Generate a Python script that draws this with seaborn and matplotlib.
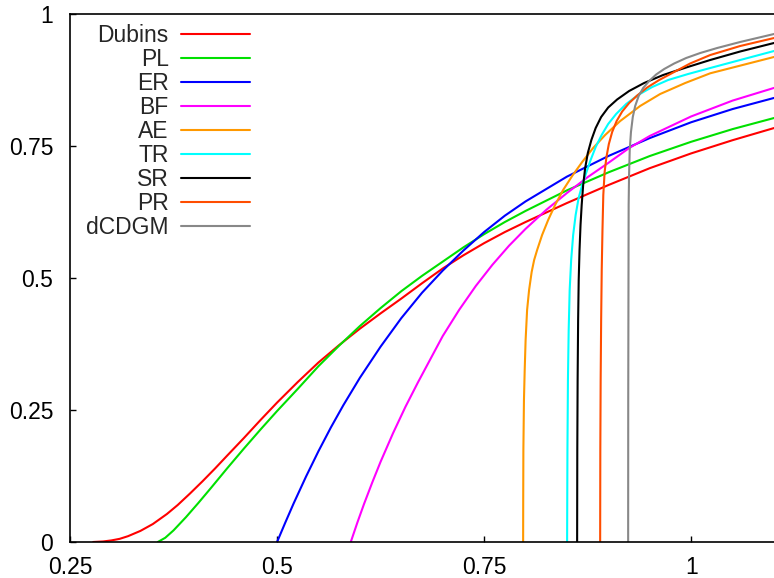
import numpy as np
import pandas as pd
import matplotlib
matplotlib.use("Agg")
import matplotlib.pyplot as plt
import seaborn as sns

methods = ["Dubins", "PL", "ER", "BF", "AE", "TR", "SR", "PR", "dCDGM"]
colors = ["#ff0000", "#00e000", "#0000ff", "#ff00ff", "#ff9900",
          "#00ffff", "#000000", "#ff4d00", "#888888"]

dubins_x = [0.278, 0.29, 0.30, 0.31, 0.32, 0.335, 0.35, 0.367, 0.38, 0.395, 0.41, 0.425, 0.44, 0.46, 0.48, 0.50,
            0.525, 0.55, 0.575, 0.60, 0.625, 0.65, 0.675, 0.70, 0.725, 0.75, 0.775, 0.80, 0.85, 0.90, 0.95, 1.00, 1.05, 1.10]
dubins_y = [0.0, 0.001, 0.003, 0.006, 0.011, 0.021, 0.034, 0.053, 0.070, 0.092, 0.115, 0.139, 0.164, 0.197, 0.231, 0.264,
            0.303, 0.340, 0.373, 0.404, 0.433, 0.461, 0.490, 0.518, 0.543, 0.566, 0.587, 0.606, 0.642, 0.676, 0.708, 0.736, 0.761, 0.784]

pl_x = [0.356, 0.365, 0.375, 0.39, 0.405, 0.42, 0.44, 0.46, 0.48, 0.50, 0.525, 0.55, 0.575, 0.60, 0.625, 0.65,
        0.675, 0.70, 0.725, 0.75, 0.775, 0.80, 0.85, 0.90, 0.95, 1.00, 1.05, 1.10]
pl_y = [0.0, 0.008, 0.022, 0.047, 0.074, 0.102, 0.140, 0.177, 0.213, 0.248, 0.290, 0.333, 0.372, 0.409, 0.443, 0.475,
        0.504, 0.531, 0.558, 0.583, 0.606, 0.627, 0.666, 0.700, 0.731, 0.758, 0.782, 0.803]

er_x = [0.500, 0.51, 0.52, 0.535, 0.55, 0.565, 0.58, 0.60, 0.625, 0.65, 0.675, 0.70, 0.725, 0.75, 0.775, 0.80,
        0.85, 0.90, 0.95, 1.00, 1.05, 1.10]
er_y = [0.0, 0.037, 0.073, 0.124, 0.172, 0.217, 0.259, 0.311, 0.370, 0.424, 0.472, 0.514, 0.552, 0.587, 0.618, 0.645,
        0.692, 0.731, 0.765, 0.795, 0.820, 0.841]

bf_x = [0.589, 0.597, 0.605, 0.615, 0.625, 0.64, 0.655, 0.67, 0.685, 0.70, 0.72, 0.74, 0.76, 0.78, 0.80, 0.825,
        0.85, 0.875, 0.90, 0.925, 0.95, 1.00, 1.05, 1.10]
bf_y = [0.0, 0.037, 0.072, 0.113, 0.152, 0.206, 0.256, 0.302, 0.346, 0.390, 0.440, 0.485, 0.525, 0.561, 0.593, 0.629,
        0.661, 0.691, 0.718, 0.746, 0.769, 0.806, 0.836, 0.860]

ae_x = [0.7971, 0.7972, 0.7974, 0.7981, 0.7990, 0.8001, 0.8019, 0.8043, 0.8074, 0.8104, 0.8140, 0.8200, 0.8273,
        0.8357, 0.8454, 0.8563, 0.8684, 0.8816, 0.8961, 0.9143, 0.9384, 0.9626, 0.9928, 1.0230, 1.10]
ae_y = [0.0, 0.0795, 0.1742, 0.2689, 0.3258, 0.3826, 0.4394, 0.4773, 0.5114, 0.5341, 0.5530, 0.5814, 0.6098,
        0.6383, 0.6667, 0.6932, 0.7197, 0.7462, 0.7708, 0.7973, 0.8258, 0.8485, 0.8693, 0.8877, 0.9186]

tr_x = [0.8502, 0.8506, 0.8512, 0.8521, 0.8533, 0.8551, 0.8575, 0.8605, 0.8641, 0.8684, 0.8732, 0.8786, 0.8847,
        0.8919, 0.8998, 0.9094, 0.9215, 0.9360, 0.9529, 0.9722, 0.9964, 1.0230, 1.0592, 1.10]
tr_y = [0.0, 0.1742, 0.3068, 0.4015, 0.4773, 0.5341, 0.5814, 0.6193, 0.6515, 0.6761, 0.6989, 0.7235, 0.7481,
        0.7708, 0.7917, 0.8106, 0.8295, 0.8466, 0.8617, 0.8750, 0.8864, 0.8977, 0.9129, 0.9299]

sr_x = [0.8623, 0.8625, 0.8629, 0.8635, 0.8642, 0.8652, 0.8664, 0.8678, 0.8696, 0.8720, 0.8752, 0.8795, 0.8847,
        0.8913, 0.8998, 0.9106, 0.9251, 0.9432, 0.9662, 0.9940, 1.0230, 1.0592, 1.10]
sr_y = [0.0, 0.1742, 0.3068, 0.4205, 0.4962, 0.5530, 0.6004, 0.6383, 0.6761, 0.7083, 0.7367, 0.7614, 0.7841,
        0.8049, 0.8229, 0.8381, 0.8542, 0.8693, 0.8845, 0.8987, 0.9129, 0.9290, 0.9451]

pr_x = [0.8901, 0.8903, 0.8907, 0.8913, 0.8920, 0.8929, 0.8939, 0.8955, 0.8977, 0.9006, 0.9046, 0.9100, 0.9167,
        0.9251, 0.9348, 0.9469, 0.9614, 0.9783, 0.9988, 1.0230, 1.0592, 1.10]
pr_y = [0.0, 0.1742, 0.3068, 0.4205, 0.5152, 0.5909, 0.6572, 0.7008, 0.7292, 0.7538, 0.7765, 0.7973, 0.8153,
        0.8314, 0.8456, 0.8608, 0.8750, 0.8892, 0.9063, 0.9223, 0.9394, 0.9545]

dcdgm_x = [0.9239, 0.9240, 0.9243, 0.9245, 0.9250, 0.9258, 0.9273, 0.9295, 0.9324, 0.9366, 0.9420, 0.9493, 0.9577,
           0.9674, 0.9795, 0.9940, 1.0109, 1.0314, 1.0592, 1.10]
dcdgm_y = [0.0, 0.2689, 0.4962, 0.6383, 0.6951, 0.7424, 0.7765, 0.8049, 0.8258, 0.8447, 0.8598, 0.8731, 0.8854,
           0.8958, 0.9063, 0.9167, 0.9261, 0.9356, 0.9470, 0.9621]

x_ticks = [0.25, 0.5, 0.75, 1.0]
x_labels = ["0.25", "0.5", "0.75", "1"]
y_ticks = [0, 0.25, 0.5, 0.75, 1.0]
y_labels = ["0", "0.25", "0.5", "0.75", "1"]

series = {
    "Dubins": (dubins_x, dubins_y), "PL": (pl_x, pl_y), "ER": (er_x, er_y),
    "BF": (bf_x, bf_y), "AE": (ae_x, ae_y), "TR": (tr_x, tr_y),
    "SR": (sr_x, sr_y), "PR": (pr_x, pr_y), "dCDGM": (dcdgm_x, dcdgm_y),
}
frames = []
for m in methods:
    xs, ys = series[m]
    frames.append(pd.DataFrame({"x": xs, "y": ys, "method": m}))
df = pd.concat(frames, ignore_index=True)

sns.set_theme(style="white")
plt.rcParams["font.family"] = ["Liberation Sans", "DejaVu Sans"]

fig = plt.figure(figsize=(7.74, 5.78), dpi=100)
ax = fig.add_axes([70 / 774, 36 / 578, 704 / 774, 528 / 578])

sns.lineplot(data=df, x="x", y="y", hue="method", hue_order=methods,
             palette=dict(zip(methods, colors)), estimator=None, sort=True,
             linewidth=1.5, ax=ax)

ax.set_xlim(0.25, 1.1)
ax.set_ylim(0, 1)
ax.set_xticks(x_ticks)
ax.set_xticklabels(x_labels)
ax.set_yticks(y_ticks)
ax.set_yticklabels(y_labels)
ax.set_xlabel("")
ax.set_ylabel("")
ax.tick_params(axis="both", direction="in", length=4.5, width=1.0,
               colors="black", labelsize=16.5, bottom=True, left=True,
               top=False, right=False)
ax.tick_params(axis="x", pad=10)
ax.tick_params(axis="y", pad=12)
for s in ["left", "bottom", "top"]:
    ax.spines[s].set_color("black")
    ax.spines[s].set_linewidth(1.2)
ax.spines["right"].set_visible(False)

handles, labels = ax.get_legend_handles_labels()
leg = ax.legend(handles, labels, loc="upper right",
                bbox_to_anchor=(250 / 774, 1 - 24 / 578),
                bbox_transform=fig.transFigure, frameon=False,
                markerfirst=False, fontsize=16.5, handlelength=3.0,
                handletextpad=0.55, labelspacing=0.045, borderpad=0,
                borderaxespad=0)
for line in leg.get_lines():
    line.set_linewidth(1.5)

fig.savefig("out.png", dpi=100)
